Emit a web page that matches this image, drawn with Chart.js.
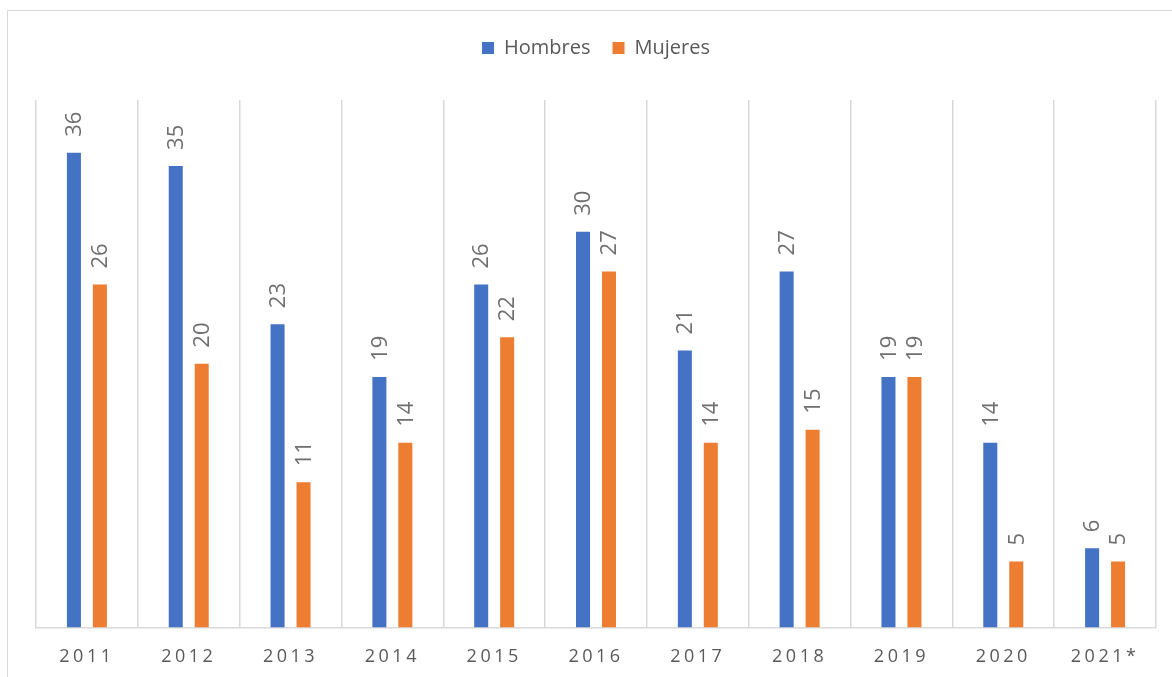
<!DOCTYPE html>
<html>
<head>
<meta charset="utf-8">
<script src="https://cdn.jsdelivr.net/npm/chart.js@4.4.1/dist/chart.umd.min.js"></script>
<style>
  html, body { margin: 0; padding: 0; background: #fff; }
  #wrap { position: relative; width: 1172px; height: 677px; overflow: hidden; }
  #marco { position: absolute; left: 7px; top: 10px; width: 1200px; height: 700px;
           border: 1.5px solid #d9d9d9; box-sizing: border-box; }
  canvas { position: absolute; left: 0; top: 0; }
</style>
</head>
<body>
<div id="wrap">
  <div id="marco"></div>
  <canvas id="grafico" width="1172" height="677"></canvas>
</div>
<script>
// Datos
const anos = ['2011', '2012', '2013', '2014', '2015', '2016', '2017', '2018', '2019', '2020', '2021*'];
const hombres = [36, 35, 23, 19, 26, 30, 21, 27, 19, 14, 6];
const mujeres = [26, 20, 11, 14, 22, 27, 14, 15, 19, 5, 5];

const fuente = "'Open Sans', 'Noto Sans', sans-serif";

// Etiquetas de datos giradas encima de cada barra
const etiquetas = {
  id: 'etiquetas',
  beforeLayout(chart) {
    // más espacio entre la leyenda y el área del gráfico
    const lg = chart.legend;
    if (lg && !lg._ajustada) {
      const fitOrig = lg.fit;
      lg.fit = function () {
        fitOrig.call(this);
        this.height += 32;
      };
      lg._ajustada = true;
    }
  },
  afterDatasetsDraw(chart) {
    const ctx = chart.ctx;
    ctx.save();
    ctx.font = '22px ' + fuente;
    ctx.fillStyle = '#6f6f6f';
    ctx.textAlign = 'left';
    ctx.textBaseline = 'middle';
    chart.data.datasets.forEach((ds, i) => {
      chart.getDatasetMeta(i).data.forEach((bar, j) => {
        ctx.save();
        ctx.translate(bar.x, bar.y - 16);
        ctx.rotate(-Math.PI / 2);
        ctx.fillText(String(ds.data[j]), 0, 1);
        ctx.restore();
      });
    });
    ctx.restore();
    // espaciado de letras para los años (se dibujan después, ticks.z = 1)
    ctx.letterSpacing = '3.5px';
  },
  afterDraw(chart) {
    chart.ctx.letterSpacing = '0px';
  }
};

new Chart(document.getElementById('grafico'), {
  type: 'bar',
  data: {
    labels: anos,
    datasets: [
      { label: 'Hombres', data: hombres, backgroundColor: '#4472C4',
        categoryPercentage: 0.51, barPercentage: 0.54 },
      { label: 'Mujeres', data: mujeres, backgroundColor: '#ED7D31',
        categoryPercentage: 0.51, barPercentage: 0.54 }
    ]
  },
  options: {
    responsive: false,
    animation: false,
    devicePixelRatio: 1,
    layout: { padding: { left: 36, right: 16, top: 16, bottom: -10 } },
    plugins: {
      legend: {
        position: 'top',
        labels: {
          boxWidth: 12, boxHeight: 12, padding: 22,
          color: '#595959',
          font: { family: fuente, size: 20 }
        }
      },
      tooltip: { enabled: false }
    },
    scales: {
      x: {
        grid: { color: '#d9d9d9', lineWidth: 1.5, drawTicks: false, offset: true },
        border: { color: '#d9d9d9', width: 1.5 },
        ticks: { z: 1, color: '#595959', padding: 19, font: { family: fuente, size: 18 } }
      },
      y: {
        display: false,
        min: 0, max: 40
      }
    }
  },
  plugins: [etiquetas]
});
</script>
</body>
</html>
